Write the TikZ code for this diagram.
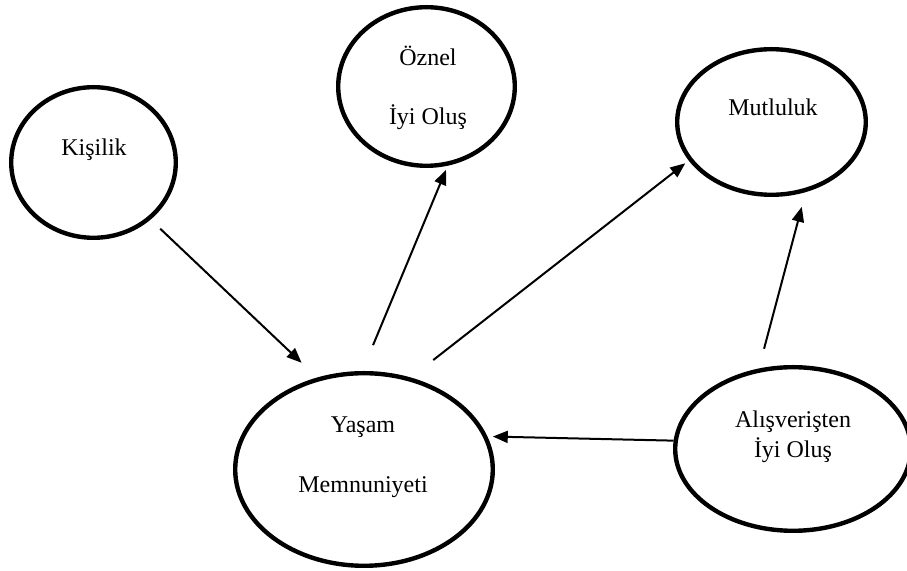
\documentclass[tikz,border=0pt]{standalone}
\usepackage{fontspec}
\setmainfont{Liberation Serif}
\usetikzlibrary{arrows.meta,shapes.geometric}

\begin{document}
\begin{tikzpicture}[x=0.5pt,y=-0.5pt,font=\fontsize{12pt}{14pt}\selectfont,
    oval/.style={ellipse, draw, line width=2.2pt, inner sep=0pt},
    yazi/.style={align=center, inner sep=0pt},
    ok/.style={-{Triangle[length=7.5pt,width=6pt]}, line width=1pt}]
    \useasboundingbox (0,0) rectangle (907,571);

    % Elipsler
    \node[oval, minimum width=82.3pt, minimum height=75.3pt] (kisilik) at (93.5,162.5) {};
    \node[oval, minimum width=88.3pt, minimum height=79.3pt] (oznel) at (426.5,86.5) {};
    \node[oval, minimum width=94.3pt, minimum height=72.8pt] (mutluluk) at (771.5,122) {};
    \node[oval, minimum width=128.8pt, minimum height=96.3pt] (yasam) at (364,469.5) {};
    \node[oval, minimum width=117.8pt, minimum height=81.8pt] (alisveris) at (793,449) {};

    % Yazilar
    \node[yazi] (kisilik-yazi) at (94,150) {Kişilik};
    \node[yazi] (oznel-yazi) at (428,87.5) {Öznel\\[15.5pt]İyi Oluş};
    \node[yazi] (mutluluk-yazi) at (773,107) {Mutluluk};
    \node[yazi] (yasam-yazi) at (363,457) {Yaşam\\[16pt]Memnuniyeti};
    \node[yazi] (alisveris-yazi) at (793,437) {Alışverişten\\[1pt]İyi Oluş};

    % Oklar
    \draw[ok, shorten <=6.6pt, shorten >=10.7pt] (kisilik.-45.2) -- (yasam.117.4);
    \draw[ok, shorten <=14pt, shorten >=2.2pt] (yasam.91) -- (oznel.-75.8);
    \draw[ok, shorten <=14.2pt, shorten >=2.2pt] (yasam.63.1) -- (mutluluk.-155.3);
    \draw[ok, shorten <=10.2pt, shorten >=7.6pt] (alisveris.113.7) -- (mutluluk.-64.6);
    \draw[ok, shorten >=2.7pt] (alisveris.176.7) -- (yasam.15.8);
\end{tikzpicture}
\end{document}
